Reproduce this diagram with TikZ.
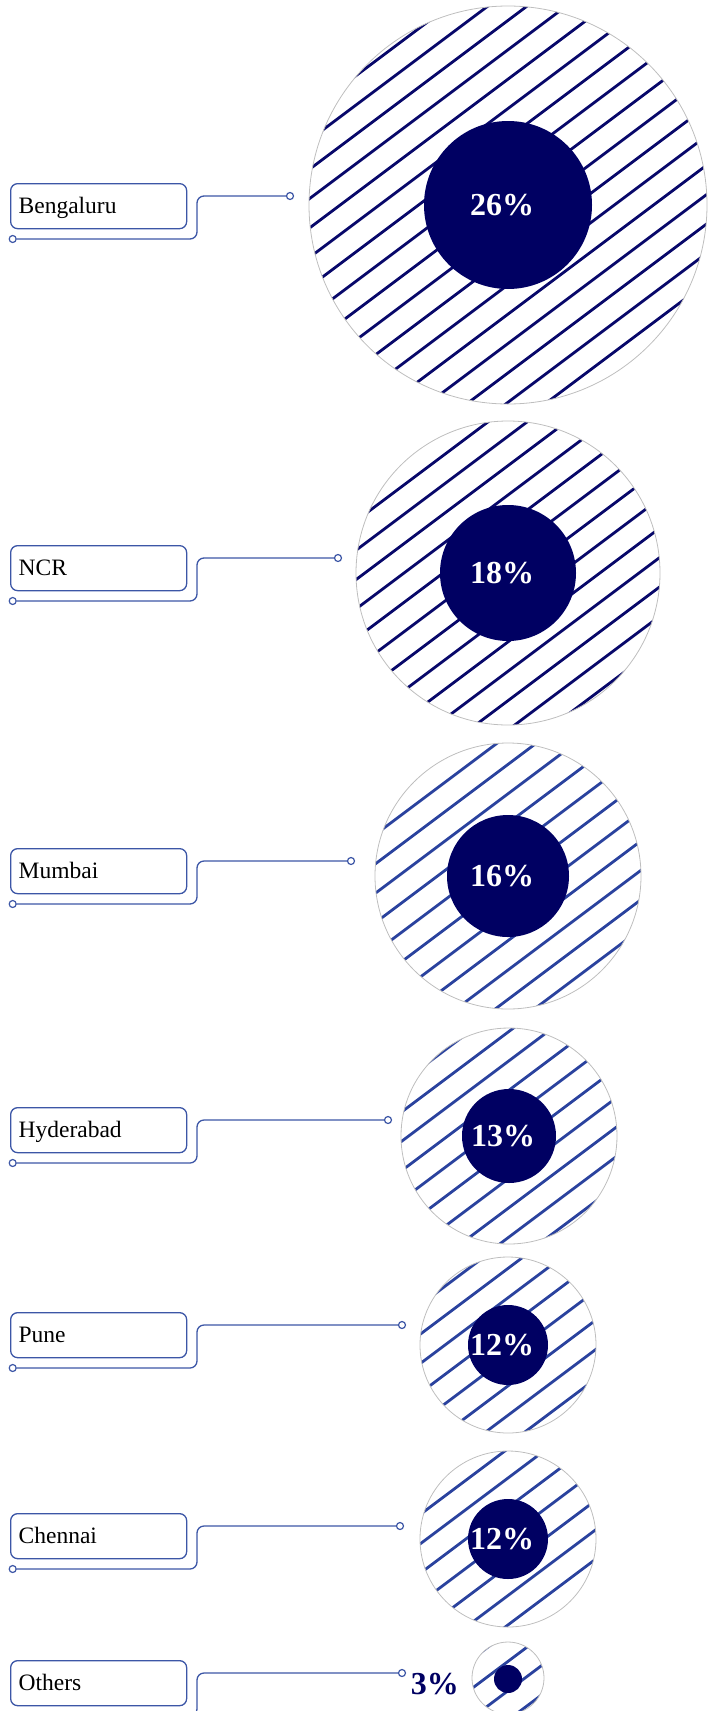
\documentclass[tikz,border=0pt]{standalone}
\usepackage{fontspec}
\setmainfont{Liberation Serif}
\usepackage{tikz}
\definecolor{navy}{RGB}{0,0,98}
\definecolor{wireblue}{RGB}{60,86,166}
\definecolor{hatchdark}{RGB}{8,8,106}
\definecolor{hatchblue}{RGB}{42,66,158}
\definecolor{rimgray}{RGB}{190,190,190}
\tikzset{citybox/.style={draw=wireblue, line width=1.3pt, rounded corners=7pt, anchor=north west,
  minimum height=45pt, text width=160pt, inner xsep=8pt, inner ysep=0pt, align=left,
  text height=15.4pt, text depth=0pt, font=\fontsize{23.5pt}{27pt}\selectfont},
dotend/.style={circle, draw=wireblue, fill=white, line width=1.2pt, minimum size=7pt, inner sep=0pt},
wire/.style={draw=wireblue, line width=1.3pt, rounded corners=7pt},
hatchline/.style={line width=2.8pt},
core/.style={circle, fill=navy, inner sep=0pt},
pct/.style={font=\bfseries\fontsize{32pt}{32pt}\selectfont, text height=21.5pt, text depth=0pt, inner sep=0pt}}

\begin{document}
\begin{tikzpicture}[x=1pt,y=-1pt]
\useasboundingbox (0,0) rectangle (716,1711);

\foreach \city/\name/\yb/\xr/\cx/\cy/\rout/\rin/\ph/\hc/\val in {
  bengaluru/Bengaluru/183/290/508/205/199/84/-6.7/hatchdark/26,
  ncr/NCR/545/338/508/573/152/68/8.1/hatchdark/18,
  mumbai/Mumbai/848/351/508/876/133/61/4.7/hatchblue/16,
  hyderabad/Hyderabad/1107/388/509/1136/108/47/10.3/hatchblue/13,
  pune/Pune/1312/402/508/1345/88/40/9.2/hatchblue/12,
  chennai/Chennai/1513/400/508/1539/88/40/-1.8/hatchblue/12}
{
  % hatched disc
  \begin{scope}
    \clip (\cx,\cy) circle [radius=\rout pt];
    \foreach \k in {-9,...,9}{
      \pgfmathsetmacro\o{\ph+23.5*\k}
      \draw[hatchline, \hc] (\cx+0.6*\o-0.8*\rout, \cy+0.8*\o+0.6*\rout) -- (\cx+0.6*\o+0.8*\rout, \cy+0.8*\o-0.6*\rout);
    }
  \end{scope}
  \draw[rimgray, line width=0.8pt] (\cx,\cy) circle [radius=\rout pt];
  \node[core, minimum size=2*\rin pt] (\city-core) at (\cx,\cy) {};
  \node[pct, text=white] (\city-pct) at (\cx-6,\cy) {\val\%};

  % label and connector
  \node[citybox] (\city) at (10,\yb) {\name};
  \node[dotend] (\city-in) at (12.7,\yb+56) {};
  \node[dotend] (\city-out) at (\xr,\yb+13) {};
  \coordinate (\city-bend) at (197,\yb+56);
  \draw[wire] (\city-in.east) -- (\city-bend) |- (\city-out.west);
}

% others
\begin{scope}
  \clip (508,1678) circle [radius=36pt];
  \foreach \k in {-2,...,2}{
    \pgfmathsetmacro\o{-13.3+23.5*\k}
    \draw[hatchline, hatchblue] (508+0.6*\o-28.8, 1678+0.8*\o+21.6) -- (508+0.6*\o+28.8, 1678+0.8*\o-21.6);
  }
\end{scope}
\draw[rimgray, line width=0.8pt] (508,1678) circle [radius=36pt];
\node[core, minimum size=28pt] (others-core) at (508,1679) {};
\node[pct, text=navy, anchor=east] (others-pct) at (459,1684) {3\%};
\node[citybox] (others) at (10,1660) {Others};
\node[dotend] (others-in) at (12.7,1716) {};
\node[dotend] (others-out) at (402,1673) {};
\coordinate (others-bend) at (197,1716);
\draw[wire] (others-in.east) -- (others-bend) |- (others-out.west);
\end{tikzpicture}
\end{document}
